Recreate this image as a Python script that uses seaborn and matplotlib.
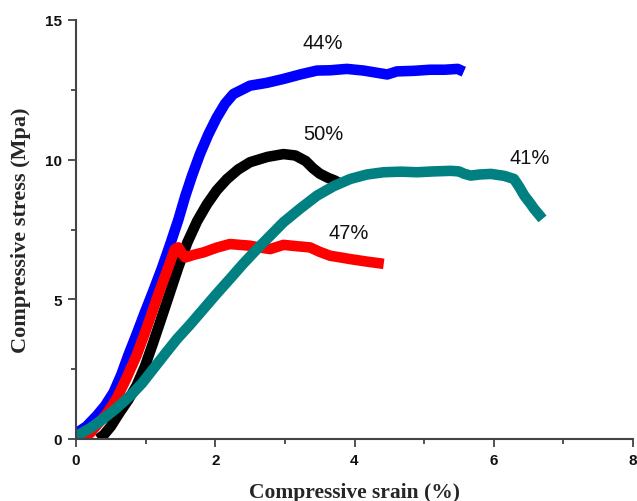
import numpy as np
import pandas as pd
import matplotlib
matplotlib.use("Agg")
import matplotlib.pyplot as plt
from matplotlib.ticker import AutoMinorLocator, FixedLocator
import seaborn as sns

# ---- data ----
blue_x = [0.0, 0.15, 0.30, 0.42, 0.54, 0.65, 0.75, 0.87, 0.99, 1.11, 1.23, 1.35,
          1.47, 1.57, 1.67, 1.78, 1.90, 2.02, 2.14, 2.26, 2.38, 2.50, 2.74, 2.98,
          3.22, 3.46, 3.65, 3.89, 4.13, 4.30, 4.47, 4.61, 4.85, 5.09, 5.30, 5.48, 5.57]
blue_y = [0.2, 0.45, 0.84, 1.2, 1.67, 2.3, 2.99, 3.75, 4.54, 5.3, 6.09, 6.95,
          7.85, 8.7, 9.45, 10.2, 10.9, 11.5, 12.0, 12.35, 12.5, 12.65, 12.75, 12.89,
          13.05, 13.19, 13.2, 13.25, 13.19, 13.12, 13.05, 13.16, 13.18, 13.22, 13.22, 13.25, 13.15]

black_x = [0.32, 0.40, 0.50, 0.63, 0.75, 0.87, 0.99, 1.11, 1.23, 1.35, 1.47, 1.60,
           1.74, 1.88, 2.02, 2.17, 2.33, 2.50, 2.75, 2.98, 3.15, 3.30, 3.40, 3.50,
           3.62, 3.72, 3.82]
black_y = [0.0, 0.15, 0.45, 0.96, 1.4, 1.91, 2.6, 3.46, 4.35, 5.25, 6.15, 7.04,
           7.8, 8.4, 8.9, 9.31, 9.65, 9.91, 10.1, 10.2, 10.15, 9.95, 9.7, 9.5,
           9.35, 9.25, 9.1]

red_x = [0.08, 0.20, 0.30, 0.44, 0.58, 0.72, 0.87, 0.99, 1.11, 1.20, 1.30, 1.37,
         1.42, 1.47, 1.52, 1.57, 1.70, 1.83, 2.02, 2.21, 2.35, 2.50, 2.65, 2.79,
         2.98, 3.18, 3.36, 3.50, 3.65, 3.80, 3.94, 4.18, 4.42]
red_y = [0.05, 0.2, 0.5, 0.9, 1.43, 2.15, 2.99, 3.8, 4.65, 5.3, 5.97, 6.45,
         6.8, 6.86, 6.65, 6.5, 6.6, 6.68, 6.85, 6.98, 6.95, 6.92, 6.85, 6.8,
         6.95, 6.9, 6.86, 6.7, 6.56, 6.5, 6.44, 6.35, 6.27]

teal_x = [0.0, 0.20, 0.39, 0.58, 0.78, 0.95, 1.11, 1.28, 1.45, 1.64, 1.83, 2.02,
          2.21, 2.40, 2.60, 2.79, 2.98, 3.22, 3.46, 3.70, 3.94, 4.18, 4.42, 4.66,
          4.90, 5.14, 5.38, 5.50, 5.57, 5.67, 5.80, 5.96, 6.15, 6.29, 6.36, 6.44,
          6.52, 6.58, 6.70]
teal_y = [0.1, 0.38, 0.72, 1.1, 1.55, 2.0, 2.51, 3.05, 3.58, 4.1, 4.65, 5.2,
          5.73, 6.27, 6.8, 7.28, 7.76, 8.25, 8.71, 9.05, 9.31, 9.47, 9.55, 9.57,
          9.55, 9.58, 9.6, 9.58, 9.5, 9.43, 9.47, 9.49, 9.42, 9.31, 9.05, 8.71,
          8.45, 8.24, 7.88]

series_names = ["44%", "50%", "47%", "41%"]
series_colors = ["#0000FF", "#000000", "#FF0000", "#008080"]
label_x = [3.54, 3.55, 3.91, 6.52]
label_y = [14.18, 10.92, 7.38, 10.06]

x_ticks = [0, 2, 4, 6, 8]
y_ticks = [0, 5, 10, 15]

frames = []
for name, xs, ys in zip(series_names,
                        [blue_x, black_x, red_x, teal_x],
                        [blue_y, black_y, red_y, teal_y]):
    frames.append(pd.DataFrame({"strain": xs, "stress": ys, "sample": name}))
df = pd.concat(frames, ignore_index=True)

sns.set_style("ticks")
plt.rcParams["font.family"] = ["Liberation Sans", "DejaVu Sans"]

fig = plt.figure(figsize=(6.37, 5.02), dpi=100)
ax = fig.add_axes([76 / 637, 1 - 440 / 502, (633 - 76) / 637, (440 - 21) / 502])

sns.lineplot(data=df, x="strain", y="stress", hue="sample", hue_order=series_names,
             palette=dict(zip(series_names, series_colors)), sort=False,
             estimator=None, units="sample", linewidth=7.6, legend=False, ax=ax,
             solid_joinstyle="round", solid_capstyle="butt")

ax.set_xlim(0, 8)
ax.set_ylim(0, 15)
ax.xaxis.set_major_locator(FixedLocator(x_ticks))
ax.yaxis.set_major_locator(FixedLocator(y_ticks))
ax.xaxis.set_minor_locator(AutoMinorLocator(2))
ax.yaxis.set_minor_locator(AutoMinorLocator(2))
ax.set_xticklabels([str(t) for t in x_ticks])
ax.set_yticklabels([str(t) for t in y_ticks])

for lab in ax.get_xticklabels() + ax.get_yticklabels():
    lab.set_fontweight("bold")
    lab.set_fontsize(11)
    lab.set_color("#111111")

ax.tick_params(which="major", direction="out", length=6, width=1.3, color="#444444", pad=4)
ax.tick_params(which="minor", direction="out", length=3.5, width=1.3, color="#444444")

sns.despine(ax=ax)
for s in ["left", "bottom"]:
    ax.spines[s].set_color("#444444")
    ax.spines[s].set_linewidth(1.5)

ax.set_xlabel("Compressive srain (%)", fontsize=15.5, fontweight="bold",
              family=["Liberation Serif", "DejaVu Serif"], labelpad=11)
ax.set_ylabel("Compressive stress (Mpa)", fontsize=16, fontweight="bold",
              family=["Liberation Serif", "DejaVu Serif"], labelpad=10)

for name, lx, ly in zip(series_names, label_x, label_y):
    ax.text(lx, ly, name, fontsize=14.5, ha="center", va="center", color="#111111")

fig.savefig("out.png", dpi=100)
